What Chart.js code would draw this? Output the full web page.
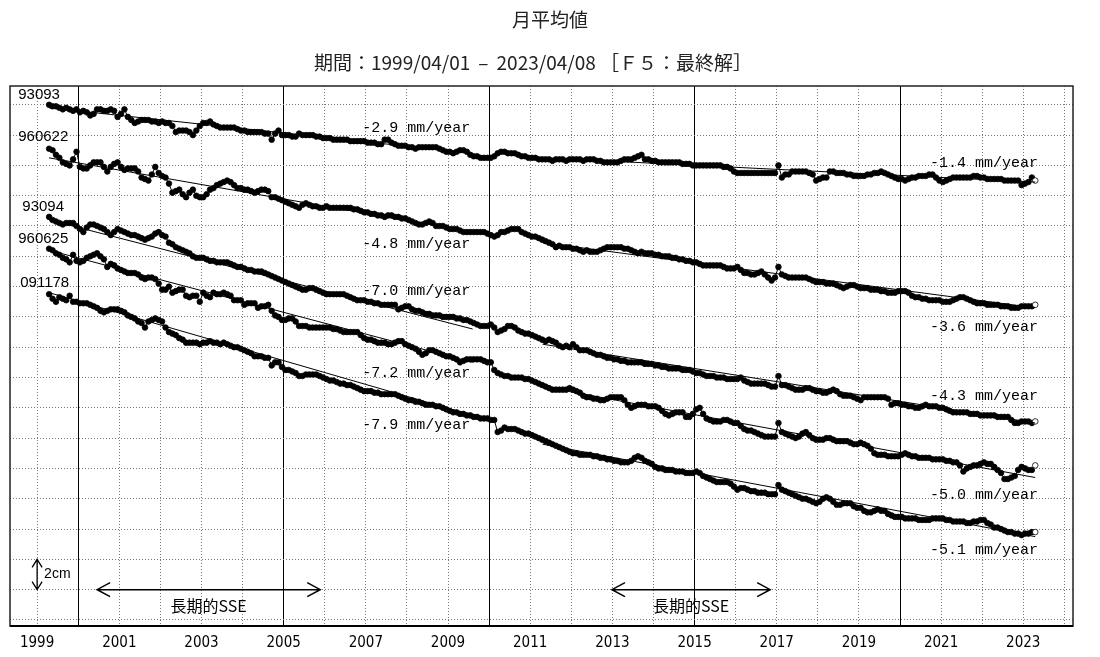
<!DOCTYPE html>
<html><head><meta charset="utf-8">
<script src="https://cdn.jsdelivr.net/npm/chart.js@4/dist/chart.umd.min.js"></script>
<style>
html,body{margin:0;padding:0;background:#fff;}
#wrap{position:relative;width:1100px;height:657px;}
</style></head><body>
<div id="wrap"><canvas id="c" width="1100" height="657"></canvas></div>
<script>
const titleText = '月平均値';
const subtitleText = '期間：1999/04/01 \u2009–\u2009 2023/04/08 ［Ｆ５：最終解］';
const stations = ['93093', '960622', '93094', '960625', '091178'];
const firstYear = 1999, firstMonth = 4;

// monthly mean values (mm, plotted with station offsets), Apr 1999 .. Apr 2023
const s93093 = [
340,339,339,338,337,338,337,336,337,335,336,335,
333,334,337,337,336,336,337,336,332,334,337,332,
330,328,329,330,330,330,329,329,328,329,328,328,
326,322,323,323,323,322,320,323,326,328,328,329,
327,326,325,325,325,325,325,324,323,323,322,322,
322,322,322,321,321,317,321,323,320,320,320,319,
319,321,320,320,320,320,319,319,318,318,318,317,
317,317,317,317,316,316,316,316,316,315,315,315,
314,314,317,317,315,314,313,313,313,312,312,311,
312,312,312,312,312,312,311,310,309,309,308,309,
310,310,309,307,306,306,305,305,305,305,306,308,
309,309,308,308,308,307,306,306,305,305,305,304,
304,304,304,303,304,304,304,303,304,304,304,304,
303,304,304,304,303,303,302,302,302,302,302,303,
304,304,304,305,306,307,304,304,303,303,302,302,
302,302,302,302,302,301,301,301,300,300,300,300,
300,300,300,300,300,299,299,298,296,295,295,295,
295,295,295,295,295,295,295,295,295,300,292,294,
294,296,296,296,296,296,295,294,290,291,292,292,
296,296,295,295,295,294,294,293,293,293,293,294,
294,295,295,296,295,294,293,292,291,291,290,291,
292,292,293,293,293,294,294,292,290,289,290,291,
292,292,292,292,292,292,293,293,292,292,291,291,
291,291,291,290,290,290,290,290,287,288,289,292,
290];
const s960622 = [
311,310,307,305,302,301,300,304,309,299,298,298,
300,302,302,302,299,296,299,301,302,299,297,298,
298,298,296,292,291,290,294,299,295,293,292,288,
282,283,284,281,279,282,284,280,279,279,281,284,
285,287,288,289,290,289,287,285,285,284,284,283,
282,283,284,284,283,279,279,278,277,276,275,274,
273,272,274,275,274,273,273,272,272,273,272,272,
272,272,272,272,272,271,271,270,269,269,268,268,
267,267,266,267,267,266,266,265,265,264,263,262,
261,261,262,263,262,260,260,260,259,258,258,258,
257,256,256,256,256,256,256,256,255,254,253,254,
256,256,257,258,258,258,256,255,254,253,253,252,
251,250,249,248,246,247,246,246,246,245,245,244,
243,244,243,243,243,244,245,246,246,246,246,246,
245,245,244,243,242,243,242,242,242,241,241,240,
240,240,239,239,238,238,237,237,236,236,235,234,
234,234,234,234,234,233,232,232,232,233,231,229,
229,228,228,229,230,228,226,224,226,233,228,227,
226,226,226,226,226,226,225,224,223,223,223,222,
222,222,221,220,219,220,221,221,220,219,219,219,
218,218,218,217,217,216,216,216,217,217,217,216,
214,213,213,212,212,211,211,211,211,210,210,210,
211,212,213,213,212,211,210,209,209,209,208,208,
208,208,207,207,207,206,206,206,207,207,207,207,
208];
const s93094 = [
266,264,263,262,261,262,262,262,260,258,256,259,
261,261,260,259,258,256,254,256,258,257,256,255,
254,254,253,252,251,252,253,255,256,254,253,249,
248,246,245,244,243,242,240,239,239,239,238,237,
237,236,236,236,236,235,234,233,233,232,231,231,
230,230,230,229,228,227,226,225,224,223,222,221,
220,219,218,218,219,219,218,217,216,215,215,215,
215,215,215,214,213,212,211,211,211,210,210,209,
209,208,208,208,208,208,205,206,207,207,205,204,
204,203,202,202,201,201,201,200,200,200,200,199,
199,198,198,197,196,195,194,194,194,195,193,190,
191,192,194,194,193,191,190,189,189,188,187,186,
185,184,185,184,183,181,180,181,180,182,180,178,
178,178,177,176,175,175,174,173,173,172,172,171,
171,170,170,170,170,170,169,169,169,168,168,167,
167,166,166,166,166,165,165,165,164,163,163,162,
161,161,161,160,160,160,159,159,159,159,160,158,
157,156,156,156,156,156,155,154,154,161,155,155,
154,153,152,152,152,153,153,152,151,151,150,150,
151,152,151,149,148,148,148,147,146,145,147,147,
147,147,147,147,147,146,142,143,143,142,142,141,
141,140,140,141,142,141,141,141,140,140,139,138,
137,137,137,137,137,136,136,136,135,135,135,135,
135,134,134,134,134,132,130,130,131,131,131,130,
131];
const s960625 = [
245,244,242,241,239,238,236,241,237,236,237,239,
240,241,242,240,238,233,235,234,232,231,230,229,
229,229,228,226,225,226,226,225,222,218,218,220,
216,217,218,218,214,213,214,214,210,216,214,213,
216,215,215,216,215,214,211,211,211,208,209,209,
209,206,207,207,208,204,201,200,198,198,199,199,
197,194,194,194,193,193,193,193,193,193,193,192,
192,191,190,190,190,190,190,188,186,185,185,184,
183,183,183,182,182,183,184,184,182,181,180,179,
177,175,176,178,178,177,176,175,174,174,173,172,
170,171,172,172,172,172,172,171,170,170,165,163,
162,161,161,160,160,160,160,159,159,158,157,156,
155,154,153,152,152,152,152,152,153,152,151,150,
148,147,147,146,146,145,145,146,147,147,147,147,
145,142,140,141,142,142,142,141,141,141,140,138,
136,135,136,137,137,137,134,134,136,139,140,136,
133,132,131,131,131,132,132,131,130,130,128,126,
125,125,124,123,122,121,121,121,121,130,124,123,
122,121,120,121,123,124,122,120,119,119,119,120,
120,119,118,118,118,118,117,116,116,117,116,115,
113,110,109,109,109,108,108,108,108,109,110,109,
108,108,107,107,107,107,106,106,106,106,105,105,
104,104,102,98,100,101,102,102,103,104,103,103,
101,99,97,93,93,94,95,99,101,100,99,99,
102];
const s091178 = [
215,212,210,213,212,211,214,210,210,209,209,209,
208,207,206,204,203,204,205,205,205,204,203,201,
200,199,197,196,193,197,198,199,198,197,193,190,
189,188,186,185,183,183,183,183,182,183,183,184,
183,183,182,183,182,181,180,180,179,178,177,176,
174,174,174,173,173,168,170,170,167,165,165,164,
163,161,161,162,162,162,162,161,160,159,158,158,
157,156,156,155,155,154,153,152,151,151,151,150,
150,149,149,149,149,149,148,147,146,145,145,144,
144,143,142,142,142,141,141,140,139,138,137,137,
136,136,135,135,134,134,133,133,133,132,132,124,
125,127,126,126,126,125,124,123,123,122,121,120,
119,118,117,116,115,114,113,112,111,110,110,109,
109,109,109,108,108,107,107,106,106,105,105,104,
104,104,105,107,108,107,105,104,103,101,100,100,
99,99,99,98,98,98,97,97,97,98,97,95,
94,93,92,91,91,91,91,90,88,86,87,87,
86,85,85,84,84,84,83,83,83,89,86,85,
84,83,82,81,80,80,79,78,77,78,80,81,
80,78,76,76,77,77,77,75,74,74,72,71,
71,72,73,72,72,70,69,68,68,68,67,67,
67,67,66,66,66,66,67,67,67,67,66,66,
65,65,65,65,64,64,65,65,66,66,64,63,
61,61,60,59,58,58,57,57,56,57,57,58,
58];
const seriesValues = [s93093, s960622, s93094, s960625, s091178];

// linear trends: early and late fitting periods
const earlyYears = [1999.29, 2009.6];
const lateYears = [2011.3, 2023.29];
const earlyRates = ['-2.9', '-4.8', '-7.0', '-7.2', '-7.9'];
const lateRates = ['-1.4', '-3.6', '-4.3', '-5.0', '-5.1'];
const earlyStart = [338, 305, 264, 244, 216];
const earlyEnd = [308, 256, 192, 170, 135];
const lateStart = [305, 249, 182, 154, 116];
const lateEnd = [289, 206, 130, 94, 55];

// annotation anchors (data units: year, mm)
const stationLabelAt = [[1998.54, 346.5], [1998.54, 318.8], [1998.64, 272.6], [1998.54, 251.5], [1998.59, 222.4]];
const earlyLabelAt = [[2006.91, 324.7], [2006.91, 248.2], [2006.91, 217.1], [2006.91, 163.0], [2006.91, 128.7]];
const lateLabelAt = [[2020.73, 301.6], [2020.73, 193.4], [2020.73, 147.8], [2020.73, 82.5], [2020.73, 46.2]];
const ssePeriods = [[2000.46, 2005.89], [2012.99, 2016.84]];
const sseLabel = '長期的SSE';
const sseLevel = 20, sseTextLevel = 9.2;
const scaleBar = {year: 1999.0, from: 20, to: 40, label: '2cm'};

const tickLabels = ['1999','2001','2003','2005','2007','2009','2011','2013','2015','2017','2019','2021','2023'];
const gridYears = [];
for (let y = 1999; y <= 2024; y++) gridYears.push(y);
const gridMM = [];
for (let v = 0; v <= 340; v += 20) gridMM.push(v);

const months = s93093.map((_, i) => firstYear + (firstMonth - 1 + i + 0.5) / 12);

const datasets = [];
seriesValues.forEach((vals, k) => {
  const last = vals.length - 1;
  datasets.push({
    label: stations[k],
    data: vals.map((v, i) => ({x: months[i], y: v})),
    borderColor: '#000', borderWidth: 1,
    pointRadius: 2.8, pointHoverRadius: 2.8,
    pointBorderWidth: 0.8, pointBorderColor: '#000',
    pointBackgroundColor: ctx => ctx.dataIndex === last ? '#fff' : '#000',
    tension: 0, order: 2
  });
  datasets.push({
    label: stations[k] + ' early', data: [{x: earlyYears[0], y: earlyStart[k]}, {x: earlyYears[1], y: earlyEnd[k]}],
    borderColor: '#000', borderWidth: 1, pointRadius: 0, order: 1
  });
  datasets.push({
    label: stations[k] + ' late', data: [{x: lateYears[0], y: lateStart[k]}, {x: lateYears[1], y: lateEnd[k]}],
    borderColor: '#000', borderWidth: 1, pointRadius: 0, order: 1
  });
});

function dArrowH(ctx, x1, x2, y) {
  ctx.beginPath();
  ctx.moveTo(x1, y); ctx.lineTo(x2, y);
  ctx.moveTo(x1 + 13, y - 7); ctx.lineTo(x1, y); ctx.lineTo(x1 + 13, y + 7);
  ctx.moveTo(x2 - 13, y - 7); ctx.lineTo(x2, y); ctx.lineTo(x2 - 13, y + 7);
  ctx.stroke();
}
function dArrowV(ctx, x, y1, y2) {
  ctx.beginPath();
  ctx.moveTo(x, y1); ctx.lineTo(x, y2);
  ctx.moveTo(x - 5, y1 + 8); ctx.lineTo(x, y1); ctx.lineTo(x + 5, y1 + 8);
  ctx.moveTo(x - 5, y2 - 8); ctx.lineTo(x, y2); ctx.lineTo(x + 5, y2 - 8);
  ctx.stroke();
}

const annotPlugin = {
  id: 'annot',
  afterDraw(chart) {
    const ctx = chart.ctx, xs = chart.scales.x, ys = chart.scales.y, a = chart.chartArea;
    const X = v => xs.getPixelForValue(v), Y = v => ys.getPixelForValue(v);
    ctx.save();
    // frame
    ctx.strokeStyle = '#222'; ctx.lineWidth = 1.5;
    ctx.strokeRect(a.left, a.top, a.right - a.left, a.bottom - a.top);
    ctx.strokeStyle = '#000'; ctx.lineWidth = 2;
    ctx.beginPath(); ctx.moveTo(a.left, a.bottom); ctx.lineTo(a.right, a.bottom); ctx.stroke();
    // titles
    ctx.fillStyle = '#222'; ctx.textAlign = 'center'; ctx.textBaseline = 'middle';
    ctx.font = '19px "Noto Sans CJK JP"';
    ctx.fillText(titleText, 550, 20);
    ctx.textAlign = 'left';
    ctx.fillText(subtitleText, 314, 63);
    // station labels
    ctx.fillStyle = '#000';
    ctx.font = '15px "Liberation Sans"';
    stations.forEach((s, k) => ctx.fillText(s, X(stationLabelAt[k][0]), Y(stationLabelAt[k][1])));
    // rate labels
    ctx.font = '15px "Liberation Mono"';
    earlyRates.forEach((r, k) => ctx.fillText(r + ' mm/year', X(earlyLabelAt[k][0]), Y(earlyLabelAt[k][1])));
    lateRates.forEach((r, k) => ctx.fillText(r + ' mm/year', X(lateLabelAt[k][0]), Y(lateLabelAt[k][1])));
    // SSE arrows
    ctx.strokeStyle = '#000'; ctx.lineWidth = 1.5;
    ctx.font = '16px "Noto Sans CJK JP"'; ctx.textAlign = 'center';
    ssePeriods.forEach(p => {
      dArrowH(ctx, X(p[0]), X(p[1]), Y(sseLevel));
      ctx.fillText(sseLabel, (X(p[0]) + X(p[1])) / 2, Y(sseTextLevel));
    });
    // scale bar
    ctx.lineWidth = 1.3;
    dArrowV(ctx, X(scaleBar.year), Y(scaleBar.to), Y(scaleBar.from));
    ctx.textAlign = 'left'; ctx.font = '14px "Liberation Sans"';
    ctx.fillText(scaleBar.label, X(scaleBar.year) + 7, Y((scaleBar.from + scaleBar.to) / 2));
    ctx.restore();
  }
};

new Chart(document.getElementById('c'), {
  type: 'line',
  data: {datasets},
  options: {
    responsive: false, animation: false, devicePixelRatio: 1,
    layout: {padding: {left: 10, right: 27, top: 86, bottom: 0}},
    plugins: {legend: {display: false}, tooltip: {enabled: false}, title: {display: false}},
    scales: {
      x: {
        type: 'linear', min: 1998.34, max: 2024.21,
        afterBuildTicks: s => { s.ticks = gridYears.map(v => ({value: v})); },
        afterFit: s => { s.height = 31; },
        ticks: {
          autoSkip: false, maxRotation: 0, padding: 8, color: '#000',
          font: {family: '"Liberation Sans Narrow", "DejaVu Sans Condensed", "Liberation Sans"', size: 15},
          callback: v => tickLabels.includes(String(v)) ? String(v) : ''
        },
        grid: {
          drawTicks: false,
          color: c => (c.tick && c.tick.value % 5 === 0) ? '#000' : '#777',
          lineWidth: 1
        },
        border: {display: false, dash: c => (c.tick && c.tick.value % 5 === 0) ? [] : [1, 2]}
      },
      y: {
        type: 'linear', min: -4, max: 352.4,
        afterBuildTicks: s => { s.ticks = gridMM.map(v => ({value: v})); },
        afterFit: s => { s.width = 0; },
        ticks: {display: false},
        grid: {drawTicks: false, color: '#777', lineWidth: 1},
        border: {display: false, dash: [1, 2]}
      }
    }
  },
  plugins: [annotPlugin]
});
</script>
</body></html>
